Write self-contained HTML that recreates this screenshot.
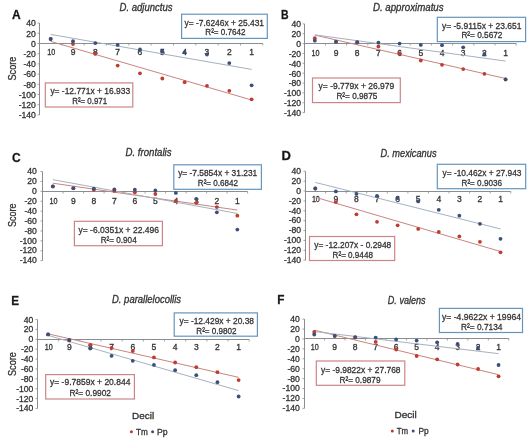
<!DOCTYPE html>
<html><head><meta charset="utf-8"><style>
html,body{margin:0;padding:0;background:#fff;}
svg{display:block;filter:blur(0.5px);}
text{font-family:"Liberation Sans",sans-serif;}
</style></head><body>
<svg width="528" height="442" viewBox="0 0 528 442">
<rect width="528" height="442" fill="#fff"/>
<text stroke="#333" stroke-width="0.3" x="11.9" y="18.75" font-size="12.5" font-weight="bold" fill="#111" textLength="8.7" lengthAdjust="spacingAndGlyphs">A</text>
<text stroke="#333" stroke-width="0.3" x="119.5" y="11.1" font-size="10" fill="#333333" textLength="53" lengthAdjust="spacingAndGlyphs" font-style="italic">D. adjunctus</text>
<line x1="39.5" y1="23.1" x2="39.5" y2="114.9" stroke="#8a8d92" stroke-width="1"/>
<line x1="37.5" y1="23.1" x2="39.5" y2="23.1" stroke="#8a8d92" stroke-width="0.8"/>
<text stroke="#333" stroke-width="0.3" x="35.9" y="26.4" font-size="8.6" fill="#333333" text-anchor="end">40</text>
<line x1="37.5" y1="33.3" x2="39.5" y2="33.3" stroke="#8a8d92" stroke-width="0.8"/>
<text stroke="#333" stroke-width="0.3" x="35.9" y="36.6" font-size="8.6" fill="#333333" text-anchor="end">20</text>
<line x1="37.5" y1="43.5" x2="39.5" y2="43.5" stroke="#8a8d92" stroke-width="0.8"/>
<text stroke="#333" stroke-width="0.3" x="35.9" y="46.8" font-size="8.6" fill="#333333" text-anchor="end">0</text>
<line x1="37.5" y1="53.7" x2="39.5" y2="53.7" stroke="#8a8d92" stroke-width="0.8"/>
<text stroke="#333" stroke-width="0.3" x="35.9" y="57" font-size="8.6" fill="#333333" text-anchor="end">-20</text>
<line x1="37.5" y1="63.9" x2="39.5" y2="63.9" stroke="#8a8d92" stroke-width="0.8"/>
<text stroke="#333" stroke-width="0.3" x="35.9" y="67.2" font-size="8.6" fill="#333333" text-anchor="end">-40</text>
<line x1="37.5" y1="74.1" x2="39.5" y2="74.1" stroke="#8a8d92" stroke-width="0.8"/>
<text stroke="#333" stroke-width="0.3" x="35.9" y="77.4" font-size="8.6" fill="#333333" text-anchor="end">-60</text>
<line x1="37.5" y1="84.3" x2="39.5" y2="84.3" stroke="#8a8d92" stroke-width="0.8"/>
<text stroke="#333" stroke-width="0.3" x="35.9" y="87.6" font-size="8.6" fill="#333333" text-anchor="end">-80</text>
<line x1="37.5" y1="94.5" x2="39.5" y2="94.5" stroke="#8a8d92" stroke-width="0.8"/>
<text stroke="#333" stroke-width="0.3" x="35.9" y="97.8" font-size="8.6" fill="#333333" text-anchor="end">-100</text>
<line x1="37.5" y1="104.7" x2="39.5" y2="104.7" stroke="#8a8d92" stroke-width="0.8"/>
<text stroke="#333" stroke-width="0.3" x="35.9" y="108" font-size="8.6" fill="#333333" text-anchor="end">-120</text>
<line x1="37.5" y1="114.9" x2="39.5" y2="114.9" stroke="#8a8d92" stroke-width="0.8"/>
<text stroke="#333" stroke-width="0.3" x="35.9" y="118.2" font-size="8.6" fill="#333333" text-anchor="end">-140</text>
<line x1="39.5" y1="43.5" x2="262.8" y2="43.5" stroke="#8a8d92" stroke-width="1"/>
<line x1="61.83" y1="43.5" x2="61.83" y2="45.5" stroke="#8a8d92" stroke-width="0.8"/>
<line x1="84.16" y1="43.5" x2="84.16" y2="45.5" stroke="#8a8d92" stroke-width="0.8"/>
<line x1="106.49" y1="43.5" x2="106.49" y2="45.5" stroke="#8a8d92" stroke-width="0.8"/>
<line x1="128.82" y1="43.5" x2="128.82" y2="45.5" stroke="#8a8d92" stroke-width="0.8"/>
<line x1="151.15" y1="43.5" x2="151.15" y2="45.5" stroke="#8a8d92" stroke-width="0.8"/>
<line x1="173.48" y1="43.5" x2="173.48" y2="45.5" stroke="#8a8d92" stroke-width="0.8"/>
<line x1="195.81" y1="43.5" x2="195.81" y2="45.5" stroke="#8a8d92" stroke-width="0.8"/>
<line x1="218.14" y1="43.5" x2="218.14" y2="45.5" stroke="#8a8d92" stroke-width="0.8"/>
<line x1="240.47" y1="43.5" x2="240.47" y2="45.5" stroke="#8a8d92" stroke-width="0.8"/>
<line x1="262.8" y1="43.5" x2="262.8" y2="45.5" stroke="#8a8d92" stroke-width="0.8"/>
<text stroke="#333" stroke-width="0.3" x="47.27" y="55" font-size="8.5" fill="#333333" textLength="8" lengthAdjust="spacingAndGlyphs">10</text>
<text stroke="#333" stroke-width="0.3" x="73" y="55" font-size="8.5" fill="#333333" text-anchor="middle">9</text>
<text stroke="#333" stroke-width="0.3" x="95.32" y="55" font-size="8.5" fill="#333333" text-anchor="middle">8</text>
<text stroke="#333" stroke-width="0.3" x="117.66" y="55" font-size="8.5" fill="#333333" text-anchor="middle">7</text>
<text stroke="#333" stroke-width="0.3" x="139.98" y="55" font-size="8.5" fill="#333333" text-anchor="middle">6</text>
<text stroke="#333" stroke-width="0.3" x="162.31" y="55" font-size="8.5" fill="#333333" text-anchor="middle">5</text>
<text stroke="#333" stroke-width="0.3" x="184.64" y="55" font-size="8.5" fill="#333333" text-anchor="middle">4</text>
<text stroke="#333" stroke-width="0.3" x="206.97" y="55" font-size="8.5" fill="#333333" text-anchor="middle">3</text>
<text stroke="#333" stroke-width="0.3" x="229.3" y="55" font-size="8.5" fill="#333333" text-anchor="middle">2</text>
<text stroke="#333" stroke-width="0.3" x="251.63" y="55" font-size="8.5" fill="#333333" text-anchor="middle">1</text>
<line x1="50.66" y1="41.38" x2="251.63" y2="100" stroke="#c88680" stroke-width="1"/>
<line x1="50.66" y1="34.42" x2="251.63" y2="69.42" stroke="#a4b2c0" stroke-width="1"/>
<circle cx="50.66" cy="39" r="1.9" fill="#c03c30"/>
<circle cx="73" cy="44" r="1.9" fill="#c03c30"/>
<circle cx="95.32" cy="53.75" r="1.9" fill="#c03c30"/>
<circle cx="117.66" cy="65.6" r="1.9" fill="#c03c30"/>
<circle cx="139.98" cy="73.3" r="1.9" fill="#c03c30"/>
<circle cx="162.31" cy="78.5" r="1.9" fill="#c03c30"/>
<circle cx="184.64" cy="82.2" r="1.9" fill="#c03c30"/>
<circle cx="206.97" cy="85.8" r="1.9" fill="#c03c30"/>
<circle cx="229.3" cy="90.8" r="1.9" fill="#c03c30"/>
<circle cx="251.63" cy="99.3" r="1.9" fill="#c03c30"/>
<circle cx="50.66" cy="39" r="1.9" fill="#3b4f7c"/>
<circle cx="73" cy="41.25" r="1.9" fill="#3b4f7c"/>
<circle cx="95.32" cy="43.1" r="1.9" fill="#3b4f7c"/>
<circle cx="117.66" cy="44.9" r="1.9" fill="#3b4f7c"/>
<circle cx="139.98" cy="49.5" r="1.9" fill="#3b4f7c"/>
<circle cx="162.31" cy="51.5" r="1.9" fill="#3b4f7c"/>
<circle cx="184.64" cy="52.5" r="1.9" fill="#3b4f7c"/>
<circle cx="206.97" cy="54.5" r="1.9" fill="#3b4f7c"/>
<circle cx="229.3" cy="63.1" r="1.9" fill="#3b4f7c"/>
<circle cx="251.63" cy="85.3" r="1.9" fill="#3b4f7c"/>
<rect x="181.6" y="14.2" width="85.7" height="24.2" fill="#fff" stroke="#6495bd" stroke-width="1.2"/>
<text stroke="#333" stroke-width="0.3" x="184.5" y="26.2" font-size="9.5" fill="#333333" textLength="79.5" lengthAdjust="spacingAndGlyphs" >y= -7.6246x + 25.431</text>
<text stroke="#333" stroke-width="0.3" x="205.3" y="35.3" font-size="9.5" fill="#333333" textLength="40.2" lengthAdjust="spacingAndGlyphs" >R²= 0.7642</text>
<rect x="45.3" y="82.9" width="87.5" height="24.1" fill="#fff" stroke="#cc8587" stroke-width="1.2"/>
<text stroke="#333" stroke-width="0.3" x="50.4" y="93.9" font-size="9.5" fill="#333333" textLength="79.7" lengthAdjust="spacingAndGlyphs" >y= -12.771x + 16.933</text>
<text stroke="#333" stroke-width="0.3" x="72.2" y="103.7" font-size="9.5" fill="#333333" textLength="35" lengthAdjust="spacingAndGlyphs" >R²= 0.971</text>
<text stroke="#333" stroke-width="0.3" transform="translate(16.1,80.5) rotate(-90)" x="0" y="0" font-size="11" fill="#333333" textLength="23.9" lengthAdjust="spacingAndGlyphs">Score</text>
<text stroke="#333" stroke-width="0.3" x="280.9" y="18.75" font-size="12.5" font-weight="bold" fill="#111" textLength="7.6" lengthAdjust="spacingAndGlyphs">B</text>
<text stroke="#333" stroke-width="0.3" x="372.9" y="11.1" font-size="10" fill="#333333" textLength="70.7" lengthAdjust="spacingAndGlyphs" font-style="italic">D. approximatus</text>
<line x1="304.5" y1="23.88" x2="304.5" y2="112.62" stroke="#8a8d92" stroke-width="1"/>
<line x1="302.5" y1="23.88" x2="304.5" y2="23.88" stroke="#8a8d92" stroke-width="0.8"/>
<text stroke="#333" stroke-width="0.3" x="301.1" y="27.28" font-size="8.6" fill="#333333" text-anchor="end">40</text>
<line x1="302.5" y1="33.74" x2="304.5" y2="33.74" stroke="#8a8d92" stroke-width="0.8"/>
<text stroke="#333" stroke-width="0.3" x="301.1" y="37.14" font-size="8.6" fill="#333333" text-anchor="end">20</text>
<line x1="302.5" y1="43.6" x2="304.5" y2="43.6" stroke="#8a8d92" stroke-width="0.8"/>
<text stroke="#333" stroke-width="0.3" x="301.1" y="47" font-size="8.6" fill="#333333" text-anchor="end">0</text>
<line x1="302.5" y1="53.46" x2="304.5" y2="53.46" stroke="#8a8d92" stroke-width="0.8"/>
<text stroke="#333" stroke-width="0.3" x="301.1" y="56.86" font-size="8.6" fill="#333333" text-anchor="end">-20</text>
<line x1="302.5" y1="63.32" x2="304.5" y2="63.32" stroke="#8a8d92" stroke-width="0.8"/>
<text stroke="#333" stroke-width="0.3" x="301.1" y="66.72" font-size="8.6" fill="#333333" text-anchor="end">-40</text>
<line x1="302.5" y1="73.18" x2="304.5" y2="73.18" stroke="#8a8d92" stroke-width="0.8"/>
<text stroke="#333" stroke-width="0.3" x="301.1" y="76.58" font-size="8.6" fill="#333333" text-anchor="end">-60</text>
<line x1="302.5" y1="83.04" x2="304.5" y2="83.04" stroke="#8a8d92" stroke-width="0.8"/>
<text stroke="#333" stroke-width="0.3" x="301.1" y="86.44" font-size="8.6" fill="#333333" text-anchor="end">-80</text>
<line x1="302.5" y1="92.9" x2="304.5" y2="92.9" stroke="#8a8d92" stroke-width="0.8"/>
<text stroke="#333" stroke-width="0.3" x="301.1" y="96.3" font-size="8.6" fill="#333333" text-anchor="end">-100</text>
<line x1="302.5" y1="102.76" x2="304.5" y2="102.76" stroke="#8a8d92" stroke-width="0.8"/>
<text stroke="#333" stroke-width="0.3" x="301.1" y="106.16" font-size="8.6" fill="#333333" text-anchor="end">-120</text>
<line x1="302.5" y1="112.62" x2="304.5" y2="112.62" stroke="#8a8d92" stroke-width="0.8"/>
<text stroke="#333" stroke-width="0.3" x="301.1" y="116.02" font-size="8.6" fill="#333333" text-anchor="end">-140</text>
<line x1="304.5" y1="43.5" x2="516.2" y2="43.5" stroke="#8a8d92" stroke-width="1"/>
<line x1="325.4" y1="43.5" x2="325.4" y2="45.5" stroke="#8a8d92" stroke-width="0.8"/>
<line x1="346.6" y1="43.5" x2="346.6" y2="45.5" stroke="#8a8d92" stroke-width="0.8"/>
<line x1="367.8" y1="43.5" x2="367.8" y2="45.5" stroke="#8a8d92" stroke-width="0.8"/>
<line x1="389" y1="43.5" x2="389" y2="45.5" stroke="#8a8d92" stroke-width="0.8"/>
<line x1="410.2" y1="43.5" x2="410.2" y2="45.5" stroke="#8a8d92" stroke-width="0.8"/>
<line x1="431.4" y1="43.5" x2="431.4" y2="45.5" stroke="#8a8d92" stroke-width="0.8"/>
<line x1="452.6" y1="43.5" x2="452.6" y2="45.5" stroke="#8a8d92" stroke-width="0.8"/>
<line x1="473.8" y1="43.5" x2="473.8" y2="45.5" stroke="#8a8d92" stroke-width="0.8"/>
<line x1="495" y1="43.5" x2="495" y2="45.5" stroke="#8a8d92" stroke-width="0.8"/>
<line x1="516.2" y1="43.5" x2="516.2" y2="45.5" stroke="#8a8d92" stroke-width="0.8"/>
<text stroke="#333" stroke-width="0.3" x="311.4" y="56.2" font-size="8.5" fill="#333333" textLength="8" lengthAdjust="spacingAndGlyphs">10</text>
<text stroke="#333" stroke-width="0.3" x="336" y="56.2" font-size="8.5" fill="#333333" text-anchor="middle">9</text>
<text stroke="#333" stroke-width="0.3" x="357.2" y="56.2" font-size="8.5" fill="#333333" text-anchor="middle">8</text>
<text stroke="#333" stroke-width="0.3" x="378.4" y="56.2" font-size="8.5" fill="#333333" text-anchor="middle">7</text>
<text stroke="#333" stroke-width="0.3" x="399.6" y="56.2" font-size="8.5" fill="#333333" text-anchor="middle">6</text>
<text stroke="#333" stroke-width="0.3" x="420.8" y="56.2" font-size="8.5" fill="#333333" text-anchor="middle">5</text>
<text stroke="#333" stroke-width="0.3" x="442" y="56.2" font-size="8.5" fill="#333333" text-anchor="middle">4</text>
<text stroke="#333" stroke-width="0.3" x="463.2" y="56.2" font-size="8.5" fill="#333333" text-anchor="middle">3</text>
<text stroke="#333" stroke-width="0.3" x="484.4" y="56.2" font-size="8.5" fill="#333333" text-anchor="middle">2</text>
<text stroke="#333" stroke-width="0.3" x="505.6" y="56.2" font-size="8.5" fill="#333333" text-anchor="middle">1</text>
<line x1="314.8" y1="35.12" x2="505.6" y2="78.51" stroke="#c88680" stroke-width="1"/>
<line x1="314.8" y1="34.85" x2="505.6" y2="61.08" stroke="#a4b2c0" stroke-width="1"/>
<circle cx="314.8" cy="38.2" r="1.9" fill="#c03c30"/>
<circle cx="336" cy="41.8" r="1.9" fill="#c03c30"/>
<circle cx="357.2" cy="42.5" r="1.9" fill="#c03c30"/>
<circle cx="378.4" cy="46.5" r="1.9" fill="#c03c30"/>
<circle cx="399.6" cy="53.5" r="1.9" fill="#c03c30"/>
<circle cx="420.8" cy="60.5" r="1.9" fill="#c03c30"/>
<circle cx="442" cy="64.8" r="1.9" fill="#c03c30"/>
<circle cx="463.2" cy="69.1" r="1.9" fill="#c03c30"/>
<circle cx="484.4" cy="73.8" r="1.9" fill="#c03c30"/>
<circle cx="505.6" cy="79.4" r="1.9" fill="#c03c30"/>
<circle cx="314.8" cy="40.7" r="1.9" fill="#3b4f7c"/>
<circle cx="336" cy="41.7" r="1.9" fill="#3b4f7c"/>
<circle cx="357.2" cy="42.2" r="1.9" fill="#3b4f7c"/>
<circle cx="378.4" cy="42.6" r="1.9" fill="#3b4f7c"/>
<circle cx="399.6" cy="43.6" r="1.9" fill="#3b4f7c"/>
<circle cx="420.8" cy="44.9" r="1.9" fill="#3b4f7c"/>
<circle cx="442" cy="45.2" r="1.9" fill="#3b4f7c"/>
<circle cx="463.2" cy="47.3" r="1.9" fill="#3b4f7c"/>
<circle cx="484.4" cy="54" r="1.9" fill="#3b4f7c"/>
<circle cx="505.6" cy="79.4" r="1.9" fill="#3b4f7c"/>
<rect x="437.3" y="17.3" width="88.3" height="24.3" fill="#fff" stroke="#6495bd" stroke-width="1.2"/>
<text stroke="#333" stroke-width="0.3" x="442" y="29" font-size="9.5" fill="#333333" textLength="79.5" lengthAdjust="spacingAndGlyphs" >y= -5.9115x + 23.651</text>
<text stroke="#333" stroke-width="0.3" x="461.4" y="38.4" font-size="9.5" fill="#333333" textLength="41" lengthAdjust="spacingAndGlyphs" >R²= 0.5672</text>
<rect x="312.5" y="78" width="87.8" height="24.6" fill="#fff" stroke="#cc8587" stroke-width="1.2"/>
<text stroke="#333" stroke-width="0.3" x="318.6" y="89.1" font-size="9.5" fill="#333333" textLength="75.7" lengthAdjust="spacingAndGlyphs" >y= -9.779x + 26.979</text>
<text stroke="#333" stroke-width="0.3" x="336.4" y="99.3" font-size="9.5" fill="#333333" textLength="40.9" lengthAdjust="spacingAndGlyphs" >R²= 0.9875</text>
<text stroke="#333" stroke-width="0.3" x="11.9" y="161.5" font-size="12.5" font-weight="bold" fill="#111" textLength="8.7" lengthAdjust="spacingAndGlyphs">C</text>
<text stroke="#333" stroke-width="0.3" x="125.5" y="155.6" font-size="10" fill="#333333" textLength="46" lengthAdjust="spacingAndGlyphs" font-style="italic">D. frontalis</text>
<line x1="42.5" y1="171.55" x2="42.5" y2="260.65" stroke="#8a8d92" stroke-width="1"/>
<line x1="40.5" y1="171.55" x2="42.5" y2="171.55" stroke="#8a8d92" stroke-width="0.8"/>
<text stroke="#333" stroke-width="0.3" x="36.85" y="174.25" font-size="8.6" fill="#333333" text-anchor="end">40</text>
<line x1="40.5" y1="181.45" x2="42.5" y2="181.45" stroke="#8a8d92" stroke-width="0.8"/>
<text stroke="#333" stroke-width="0.3" x="36.85" y="184.15" font-size="8.6" fill="#333333" text-anchor="end">20</text>
<line x1="40.5" y1="191.35" x2="42.5" y2="191.35" stroke="#8a8d92" stroke-width="0.8"/>
<text stroke="#333" stroke-width="0.3" x="36.85" y="194.05" font-size="8.6" fill="#333333" text-anchor="end">0</text>
<line x1="40.5" y1="201.25" x2="42.5" y2="201.25" stroke="#8a8d92" stroke-width="0.8"/>
<text stroke="#333" stroke-width="0.3" x="36.85" y="203.95" font-size="8.6" fill="#333333" text-anchor="end">-20</text>
<line x1="40.5" y1="211.15" x2="42.5" y2="211.15" stroke="#8a8d92" stroke-width="0.8"/>
<text stroke="#333" stroke-width="0.3" x="36.85" y="213.85" font-size="8.6" fill="#333333" text-anchor="end">-40</text>
<line x1="40.5" y1="221.05" x2="42.5" y2="221.05" stroke="#8a8d92" stroke-width="0.8"/>
<text stroke="#333" stroke-width="0.3" x="36.85" y="223.75" font-size="8.6" fill="#333333" text-anchor="end">-60</text>
<line x1="40.5" y1="230.95" x2="42.5" y2="230.95" stroke="#8a8d92" stroke-width="0.8"/>
<text stroke="#333" stroke-width="0.3" x="36.85" y="233.65" font-size="8.6" fill="#333333" text-anchor="end">-80</text>
<line x1="40.5" y1="240.85" x2="42.5" y2="240.85" stroke="#8a8d92" stroke-width="0.8"/>
<text stroke="#333" stroke-width="0.3" x="36.85" y="243.55" font-size="8.6" fill="#333333" text-anchor="end">-100</text>
<line x1="40.5" y1="250.75" x2="42.5" y2="250.75" stroke="#8a8d92" stroke-width="0.8"/>
<text stroke="#333" stroke-width="0.3" x="36.85" y="253.45" font-size="8.6" fill="#333333" text-anchor="end">-120</text>
<line x1="40.5" y1="260.65" x2="42.5" y2="260.65" stroke="#8a8d92" stroke-width="0.8"/>
<text stroke="#333" stroke-width="0.3" x="36.85" y="263.35" font-size="8.6" fill="#333333" text-anchor="end">-140</text>
<line x1="42.5" y1="191.5" x2="247.6" y2="191.5" stroke="#8a8d92" stroke-width="1"/>
<line x1="63.1" y1="191.5" x2="63.1" y2="193.5" stroke="#8a8d92" stroke-width="0.8"/>
<line x1="83.6" y1="191.5" x2="83.6" y2="193.5" stroke="#8a8d92" stroke-width="0.8"/>
<line x1="104.1" y1="191.5" x2="104.1" y2="193.5" stroke="#8a8d92" stroke-width="0.8"/>
<line x1="124.6" y1="191.5" x2="124.6" y2="193.5" stroke="#8a8d92" stroke-width="0.8"/>
<line x1="145.1" y1="191.5" x2="145.1" y2="193.5" stroke="#8a8d92" stroke-width="0.8"/>
<line x1="165.6" y1="191.5" x2="165.6" y2="193.5" stroke="#8a8d92" stroke-width="0.8"/>
<line x1="186.1" y1="191.5" x2="186.1" y2="193.5" stroke="#8a8d92" stroke-width="0.8"/>
<line x1="206.6" y1="191.5" x2="206.6" y2="193.5" stroke="#8a8d92" stroke-width="0.8"/>
<line x1="227.1" y1="191.5" x2="227.1" y2="193.5" stroke="#8a8d92" stroke-width="0.8"/>
<line x1="247.6" y1="191.5" x2="247.6" y2="193.5" stroke="#8a8d92" stroke-width="0.8"/>
<text stroke="#333" stroke-width="0.3" x="49.45" y="203.5" font-size="8.5" fill="#333333" textLength="8" lengthAdjust="spacingAndGlyphs">10</text>
<text stroke="#333" stroke-width="0.3" x="73.35" y="203.5" font-size="8.5" fill="#333333" text-anchor="middle">9</text>
<text stroke="#333" stroke-width="0.3" x="93.85" y="203.5" font-size="8.5" fill="#333333" text-anchor="middle">8</text>
<text stroke="#333" stroke-width="0.3" x="114.35" y="203.5" font-size="8.5" fill="#333333" text-anchor="middle">7</text>
<text stroke="#333" stroke-width="0.3" x="134.85" y="203.5" font-size="8.5" fill="#333333" text-anchor="middle">6</text>
<text stroke="#333" stroke-width="0.3" x="155.35" y="203.5" font-size="8.5" fill="#333333" text-anchor="middle">5</text>
<text stroke="#333" stroke-width="0.3" x="175.85" y="203.5" font-size="8.5" fill="#333333" text-anchor="middle">4</text>
<text stroke="#333" stroke-width="0.3" x="196.35" y="203.5" font-size="8.5" fill="#333333" text-anchor="middle">3</text>
<text stroke="#333" stroke-width="0.3" x="216.85" y="203.5" font-size="8.5" fill="#333333" text-anchor="middle">2</text>
<text stroke="#333" stroke-width="0.3" x="237.35" y="203.5" font-size="8.5" fill="#333333" text-anchor="middle">1</text>
<line x1="52.85" y1="183.2" x2="237.35" y2="210.09" stroke="#c88680" stroke-width="1"/>
<line x1="52.85" y1="179.65" x2="237.35" y2="213.44" stroke="#a4b2c0" stroke-width="1"/>
<circle cx="52.85" cy="186.4" r="1.9" fill="#c03c30"/>
<circle cx="73.35" cy="188.3" r="1.9" fill="#c03c30"/>
<circle cx="93.85" cy="189.8" r="1.9" fill="#c03c30"/>
<circle cx="114.35" cy="190.9" r="1.9" fill="#c03c30"/>
<circle cx="134.85" cy="192.3" r="1.9" fill="#c03c30"/>
<circle cx="155.35" cy="194" r="1.9" fill="#c03c30"/>
<circle cx="175.85" cy="201" r="1.9" fill="#c03c30"/>
<circle cx="196.35" cy="202.8" r="1.9" fill="#c03c30"/>
<circle cx="216.85" cy="207.1" r="1.9" fill="#c03c30"/>
<circle cx="237.35" cy="215.7" r="1.9" fill="#c03c30"/>
<circle cx="52.85" cy="186.4" r="1.9" fill="#3b4f7c"/>
<circle cx="73.35" cy="188.2" r="1.9" fill="#3b4f7c"/>
<circle cx="93.85" cy="188.6" r="1.9" fill="#3b4f7c"/>
<circle cx="114.35" cy="189.3" r="1.9" fill="#3b4f7c"/>
<circle cx="134.85" cy="189.7" r="1.9" fill="#3b4f7c"/>
<circle cx="155.35" cy="190.5" r="1.9" fill="#3b4f7c"/>
<circle cx="175.85" cy="192.9" r="1.9" fill="#3b4f7c"/>
<circle cx="196.35" cy="198.8" r="1.9" fill="#3b4f7c"/>
<circle cx="216.85" cy="212.3" r="1.9" fill="#3b4f7c"/>
<circle cx="237.35" cy="229.6" r="1.9" fill="#3b4f7c"/>
<rect x="173.8" y="164.8" width="87.6" height="24.5" fill="#fff" stroke="#6495bd" stroke-width="1.2"/>
<text stroke="#333" stroke-width="0.3" x="178.2" y="176" font-size="9.5" fill="#333333" textLength="79" lengthAdjust="spacingAndGlyphs" >y= -7.5854x + 31.231</text>
<text stroke="#333" stroke-width="0.3" x="197.8" y="186.3" font-size="9.5" fill="#333333" textLength="40.2" lengthAdjust="spacingAndGlyphs" >R²= 0.6842</text>
<rect x="74.4" y="221.3" width="88" height="24.4" fill="#fff" stroke="#cc8587" stroke-width="1.2"/>
<text stroke="#333" stroke-width="0.3" x="78.5" y="232.7" font-size="9.5" fill="#333333" textLength="80.5" lengthAdjust="spacingAndGlyphs" >y= -6.0351x + 22.496</text>
<text stroke="#333" stroke-width="0.3" x="100.7" y="243.2" font-size="9.5" fill="#333333" textLength="36" lengthAdjust="spacingAndGlyphs" >R²= 0.904</text>
<text stroke="#333" stroke-width="0.3" transform="translate(16.1,227) rotate(-90)" x="0" y="0" font-size="11" fill="#333333" textLength="23.4" lengthAdjust="spacingAndGlyphs">Score</text>
<text stroke="#333" stroke-width="0.3" x="281.6" y="160" font-size="12.5" font-weight="bold" fill="#111" textLength="9.4" lengthAdjust="spacingAndGlyphs">D</text>
<text stroke="#333" stroke-width="0.3" x="380.5" y="156.5" font-size="10" fill="#333333" textLength="56" lengthAdjust="spacingAndGlyphs" font-style="italic">D. mexicanus</text>
<line x1="305.5" y1="171.29" x2="305.5" y2="260.21" stroke="#8a8d92" stroke-width="1"/>
<line x1="303.5" y1="171.29" x2="305.5" y2="171.29" stroke="#8a8d92" stroke-width="0.8"/>
<text stroke="#333" stroke-width="0.3" x="301.1" y="174.09" font-size="8.6" fill="#333333" text-anchor="end">40</text>
<line x1="303.5" y1="181.17" x2="305.5" y2="181.17" stroke="#8a8d92" stroke-width="0.8"/>
<text stroke="#333" stroke-width="0.3" x="301.1" y="183.97" font-size="8.6" fill="#333333" text-anchor="end">20</text>
<line x1="303.5" y1="191.05" x2="305.5" y2="191.05" stroke="#8a8d92" stroke-width="0.8"/>
<text stroke="#333" stroke-width="0.3" x="301.1" y="193.85" font-size="8.6" fill="#333333" text-anchor="end">0</text>
<line x1="303.5" y1="200.93" x2="305.5" y2="200.93" stroke="#8a8d92" stroke-width="0.8"/>
<text stroke="#333" stroke-width="0.3" x="301.1" y="203.73" font-size="8.6" fill="#333333" text-anchor="end">-20</text>
<line x1="303.5" y1="210.81" x2="305.5" y2="210.81" stroke="#8a8d92" stroke-width="0.8"/>
<text stroke="#333" stroke-width="0.3" x="301.1" y="213.61" font-size="8.6" fill="#333333" text-anchor="end">-40</text>
<line x1="303.5" y1="220.69" x2="305.5" y2="220.69" stroke="#8a8d92" stroke-width="0.8"/>
<text stroke="#333" stroke-width="0.3" x="301.1" y="223.49" font-size="8.6" fill="#333333" text-anchor="end">-60</text>
<line x1="303.5" y1="230.57" x2="305.5" y2="230.57" stroke="#8a8d92" stroke-width="0.8"/>
<text stroke="#333" stroke-width="0.3" x="301.1" y="233.37" font-size="8.6" fill="#333333" text-anchor="end">-80</text>
<line x1="303.5" y1="240.45" x2="305.5" y2="240.45" stroke="#8a8d92" stroke-width="0.8"/>
<text stroke="#333" stroke-width="0.3" x="301.1" y="243.25" font-size="8.6" fill="#333333" text-anchor="end">-100</text>
<line x1="303.5" y1="250.33" x2="305.5" y2="250.33" stroke="#8a8d92" stroke-width="0.8"/>
<text stroke="#333" stroke-width="0.3" x="301.1" y="253.13" font-size="8.6" fill="#333333" text-anchor="end">-120</text>
<line x1="303.5" y1="260.21" x2="305.5" y2="260.21" stroke="#8a8d92" stroke-width="0.8"/>
<text stroke="#333" stroke-width="0.3" x="301.1" y="263.01" font-size="8.6" fill="#333333" text-anchor="end">-140</text>
<line x1="305.5" y1="191.5" x2="510.8" y2="191.5" stroke="#8a8d92" stroke-width="1"/>
<line x1="325.58" y1="191.5" x2="325.58" y2="193.5" stroke="#8a8d92" stroke-width="0.8"/>
<line x1="346.16" y1="191.5" x2="346.16" y2="193.5" stroke="#8a8d92" stroke-width="0.8"/>
<line x1="366.74" y1="191.5" x2="366.74" y2="193.5" stroke="#8a8d92" stroke-width="0.8"/>
<line x1="387.32" y1="191.5" x2="387.32" y2="193.5" stroke="#8a8d92" stroke-width="0.8"/>
<line x1="407.9" y1="191.5" x2="407.9" y2="193.5" stroke="#8a8d92" stroke-width="0.8"/>
<line x1="428.48" y1="191.5" x2="428.48" y2="193.5" stroke="#8a8d92" stroke-width="0.8"/>
<line x1="449.06" y1="191.5" x2="449.06" y2="193.5" stroke="#8a8d92" stroke-width="0.8"/>
<line x1="469.64" y1="191.5" x2="469.64" y2="193.5" stroke="#8a8d92" stroke-width="0.8"/>
<line x1="490.22" y1="191.5" x2="490.22" y2="193.5" stroke="#8a8d92" stroke-width="0.8"/>
<line x1="510.8" y1="191.5" x2="510.8" y2="193.5" stroke="#8a8d92" stroke-width="0.8"/>
<text stroke="#333" stroke-width="0.3" x="311.89" y="202.2" font-size="8.5" fill="#333333" textLength="8" lengthAdjust="spacingAndGlyphs">10</text>
<text stroke="#333" stroke-width="0.3" x="335.87" y="202.2" font-size="8.5" fill="#333333" text-anchor="middle">9</text>
<text stroke="#333" stroke-width="0.3" x="356.45" y="202.2" font-size="8.5" fill="#333333" text-anchor="middle">8</text>
<text stroke="#333" stroke-width="0.3" x="377.03" y="202.2" font-size="8.5" fill="#333333" text-anchor="middle">7</text>
<text stroke="#333" stroke-width="0.3" x="397.61" y="202.2" font-size="8.5" fill="#333333" text-anchor="middle">6</text>
<text stroke="#333" stroke-width="0.3" x="418.19" y="202.2" font-size="8.5" fill="#333333" text-anchor="middle">5</text>
<text stroke="#333" stroke-width="0.3" x="438.77" y="202.2" font-size="8.5" fill="#333333" text-anchor="middle">4</text>
<text stroke="#333" stroke-width="0.3" x="459.35" y="202.2" font-size="8.5" fill="#333333" text-anchor="middle">3</text>
<text stroke="#333" stroke-width="0.3" x="479.93" y="202.2" font-size="8.5" fill="#333333" text-anchor="middle">2</text>
<text stroke="#333" stroke-width="0.3" x="500.51" y="202.2" font-size="8.5" fill="#333333" text-anchor="middle">1</text>
<line x1="315.29" y1="197.23" x2="500.51" y2="251.5" stroke="#c88680" stroke-width="1"/>
<line x1="315.29" y1="182.41" x2="500.51" y2="228.93" stroke="#a4b2c0" stroke-width="1"/>
<circle cx="315.29" cy="188.5" r="1.9" fill="#c03c30"/>
<circle cx="335.87" cy="202.1" r="1.9" fill="#c03c30"/>
<circle cx="356.45" cy="214.3" r="1.9" fill="#c03c30"/>
<circle cx="377.03" cy="221.8" r="1.9" fill="#c03c30"/>
<circle cx="397.61" cy="225.3" r="1.9" fill="#c03c30"/>
<circle cx="418.19" cy="228.9" r="1.9" fill="#c03c30"/>
<circle cx="438.77" cy="231.9" r="1.9" fill="#c03c30"/>
<circle cx="459.35" cy="236.4" r="1.9" fill="#c03c30"/>
<circle cx="479.93" cy="241.8" r="1.9" fill="#c03c30"/>
<circle cx="500.51" cy="252.3" r="1.9" fill="#c03c30"/>
<circle cx="315.29" cy="188.5" r="1.9" fill="#3b4f7c"/>
<circle cx="335.87" cy="191.4" r="1.9" fill="#3b4f7c"/>
<circle cx="356.45" cy="193.9" r="1.9" fill="#3b4f7c"/>
<circle cx="377.03" cy="195.9" r="1.9" fill="#3b4f7c"/>
<circle cx="397.61" cy="198" r="1.9" fill="#3b4f7c"/>
<circle cx="418.19" cy="201.4" r="1.9" fill="#3b4f7c"/>
<circle cx="438.77" cy="209.8" r="1.9" fill="#3b4f7c"/>
<circle cx="459.35" cy="215.7" r="1.9" fill="#3b4f7c"/>
<circle cx="479.93" cy="223.8" r="1.9" fill="#3b4f7c"/>
<circle cx="500.51" cy="238.8" r="1.9" fill="#3b4f7c"/>
<rect x="437.3" y="164.3" width="88.4" height="24.4" fill="#fff" stroke="#6495bd" stroke-width="1.2"/>
<text stroke="#333" stroke-width="0.3" x="442.5" y="176" font-size="9.5" fill="#333333" textLength="79" lengthAdjust="spacingAndGlyphs" >y= -10.462x + 27.943</text>
<text stroke="#333" stroke-width="0.3" x="461.5" y="186.4" font-size="9.5" fill="#333333" textLength="40.5" lengthAdjust="spacingAndGlyphs" >R²= 0.9036</text>
<rect x="309.5" y="236.5" width="85.2" height="24" fill="#fff" stroke="#cc8587" stroke-width="1.2"/>
<text stroke="#333" stroke-width="0.3" x="314.2" y="247.5" font-size="9.5" fill="#333333" textLength="77.1" lengthAdjust="spacingAndGlyphs" >y= -12.207x - 0.2948</text>
<text stroke="#333" stroke-width="0.3" x="332.6" y="257.8" font-size="9.5" fill="#333333" textLength="40.3" lengthAdjust="spacingAndGlyphs" >R²= 0.9448</text>
<text stroke="#333" stroke-width="0.3" x="11.3" y="304.75" font-size="12.5" font-weight="bold" fill="#111" textLength="7.8" lengthAdjust="spacingAndGlyphs">E</text>
<text stroke="#333" stroke-width="0.3" x="112" y="303" font-size="10" fill="#333333" textLength="69" lengthAdjust="spacingAndGlyphs" font-style="italic">D. parallelocollis</text>
<line x1="37.5" y1="319.54" x2="37.5" y2="408.46" stroke="#8a8d92" stroke-width="1"/>
<line x1="35.5" y1="319.54" x2="37.5" y2="319.54" stroke="#8a8d92" stroke-width="0.8"/>
<text stroke="#333" stroke-width="0.3" x="33.4" y="322.54" font-size="8.6" fill="#333333" text-anchor="end">40</text>
<line x1="35.5" y1="329.42" x2="37.5" y2="329.42" stroke="#8a8d92" stroke-width="0.8"/>
<text stroke="#333" stroke-width="0.3" x="33.4" y="332.42" font-size="8.6" fill="#333333" text-anchor="end">20</text>
<line x1="35.5" y1="339.3" x2="37.5" y2="339.3" stroke="#8a8d92" stroke-width="0.8"/>
<text stroke="#333" stroke-width="0.3" x="33.4" y="342.3" font-size="8.6" fill="#333333" text-anchor="end">0</text>
<line x1="35.5" y1="349.18" x2="37.5" y2="349.18" stroke="#8a8d92" stroke-width="0.8"/>
<text stroke="#333" stroke-width="0.3" x="33.4" y="352.18" font-size="8.6" fill="#333333" text-anchor="end">-20</text>
<line x1="35.5" y1="359.06" x2="37.5" y2="359.06" stroke="#8a8d92" stroke-width="0.8"/>
<text stroke="#333" stroke-width="0.3" x="33.4" y="362.06" font-size="8.6" fill="#333333" text-anchor="end">-40</text>
<line x1="35.5" y1="368.94" x2="37.5" y2="368.94" stroke="#8a8d92" stroke-width="0.8"/>
<text stroke="#333" stroke-width="0.3" x="33.4" y="371.94" font-size="8.6" fill="#333333" text-anchor="end">-60</text>
<line x1="35.5" y1="378.82" x2="37.5" y2="378.82" stroke="#8a8d92" stroke-width="0.8"/>
<text stroke="#333" stroke-width="0.3" x="33.4" y="381.82" font-size="8.6" fill="#333333" text-anchor="end">-80</text>
<line x1="35.5" y1="388.7" x2="37.5" y2="388.7" stroke="#8a8d92" stroke-width="0.8"/>
<text stroke="#333" stroke-width="0.3" x="33.4" y="391.7" font-size="8.6" fill="#333333" text-anchor="end">-100</text>
<line x1="35.5" y1="398.58" x2="37.5" y2="398.58" stroke="#8a8d92" stroke-width="0.8"/>
<text stroke="#333" stroke-width="0.3" x="33.4" y="401.58" font-size="8.6" fill="#333333" text-anchor="end">-120</text>
<line x1="35.5" y1="408.46" x2="37.5" y2="408.46" stroke="#8a8d92" stroke-width="0.8"/>
<text stroke="#333" stroke-width="0.3" x="33.4" y="411.46" font-size="8.6" fill="#333333" text-anchor="end">-140</text>
<line x1="37.5" y1="339.5" x2="249.2" y2="339.5" stroke="#8a8d92" stroke-width="1"/>
<line x1="58.67" y1="339.5" x2="58.67" y2="341.5" stroke="#8a8d92" stroke-width="0.8"/>
<line x1="79.84" y1="339.5" x2="79.84" y2="341.5" stroke="#8a8d92" stroke-width="0.8"/>
<line x1="101.01" y1="339.5" x2="101.01" y2="341.5" stroke="#8a8d92" stroke-width="0.8"/>
<line x1="122.18" y1="339.5" x2="122.18" y2="341.5" stroke="#8a8d92" stroke-width="0.8"/>
<line x1="143.35" y1="339.5" x2="143.35" y2="341.5" stroke="#8a8d92" stroke-width="0.8"/>
<line x1="164.52" y1="339.5" x2="164.52" y2="341.5" stroke="#8a8d92" stroke-width="0.8"/>
<line x1="185.69" y1="339.5" x2="185.69" y2="341.5" stroke="#8a8d92" stroke-width="0.8"/>
<line x1="206.86" y1="339.5" x2="206.86" y2="341.5" stroke="#8a8d92" stroke-width="0.8"/>
<line x1="228.03" y1="339.5" x2="228.03" y2="341.5" stroke="#8a8d92" stroke-width="0.8"/>
<line x1="249.2" y1="339.5" x2="249.2" y2="341.5" stroke="#8a8d92" stroke-width="0.8"/>
<text stroke="#333" stroke-width="0.3" x="44.69" y="349.6" font-size="8.5" fill="#333333" textLength="8" lengthAdjust="spacingAndGlyphs">10</text>
<text stroke="#333" stroke-width="0.3" x="69.25" y="349.6" font-size="8.5" fill="#333333" text-anchor="middle">9</text>
<text stroke="#333" stroke-width="0.3" x="90.43" y="349.6" font-size="8.5" fill="#333333" text-anchor="middle">8</text>
<text stroke="#333" stroke-width="0.3" x="111.59" y="349.6" font-size="8.5" fill="#333333" text-anchor="middle">7</text>
<text stroke="#333" stroke-width="0.3" x="132.77" y="349.6" font-size="8.5" fill="#333333" text-anchor="middle">6</text>
<text stroke="#333" stroke-width="0.3" x="153.94" y="349.6" font-size="8.5" fill="#333333" text-anchor="middle">5</text>
<text stroke="#333" stroke-width="0.3" x="175.11" y="349.6" font-size="8.5" fill="#333333" text-anchor="middle">4</text>
<text stroke="#333" stroke-width="0.3" x="196.28" y="349.6" font-size="8.5" fill="#333333" text-anchor="middle">3</text>
<text stroke="#333" stroke-width="0.3" x="217.45" y="349.6" font-size="8.5" fill="#333333" text-anchor="middle">2</text>
<text stroke="#333" stroke-width="0.3" x="238.62" y="349.6" font-size="8.5" fill="#333333" text-anchor="middle">1</text>
<line x1="48.09" y1="333.84" x2="238.62" y2="377.35" stroke="#c88680" stroke-width="1"/>
<line x1="48.09" y1="335.37" x2="238.62" y2="390.63" stroke="#a4b2c0" stroke-width="1"/>
<circle cx="48.09" cy="334.4" r="1.9" fill="#c03c30"/>
<circle cx="69.25" cy="340.5" r="1.9" fill="#c03c30"/>
<circle cx="90.43" cy="344.8" r="1.9" fill="#c03c30"/>
<circle cx="111.59" cy="347.9" r="1.9" fill="#c03c30"/>
<circle cx="132.77" cy="351.1" r="1.9" fill="#c03c30"/>
<circle cx="153.94" cy="357.4" r="1.9" fill="#c03c30"/>
<circle cx="175.11" cy="362.5" r="1.9" fill="#c03c30"/>
<circle cx="196.28" cy="367.2" r="1.9" fill="#c03c30"/>
<circle cx="217.45" cy="372.2" r="1.9" fill="#c03c30"/>
<circle cx="238.62" cy="380.1" r="1.9" fill="#c03c30"/>
<circle cx="48.09" cy="334.4" r="1.9" fill="#3b4f7c"/>
<circle cx="69.25" cy="340" r="1.9" fill="#3b4f7c"/>
<circle cx="90.43" cy="348.3" r="1.9" fill="#3b4f7c"/>
<circle cx="111.59" cy="355.8" r="1.9" fill="#3b4f7c"/>
<circle cx="132.77" cy="360.8" r="1.9" fill="#3b4f7c"/>
<circle cx="153.94" cy="364.9" r="1.9" fill="#3b4f7c"/>
<circle cx="175.11" cy="370.2" r="1.9" fill="#3b4f7c"/>
<circle cx="196.28" cy="375.2" r="1.9" fill="#3b4f7c"/>
<circle cx="217.45" cy="382.2" r="1.9" fill="#3b4f7c"/>
<circle cx="238.62" cy="396.5" r="1.9" fill="#3b4f7c"/>
<rect x="174.2" y="312.9" width="83.2" height="23.3" fill="#fff" stroke="#6495bd" stroke-width="1.2"/>
<text stroke="#333" stroke-width="0.3" x="179.5" y="323.7" font-size="9.5" fill="#333333" textLength="74.5" lengthAdjust="spacingAndGlyphs" >y= -12.429x + 20.38</text>
<text stroke="#333" stroke-width="0.3" x="196.3" y="333.9" font-size="9.5" fill="#333333" textLength="40.2" lengthAdjust="spacingAndGlyphs" >R²= 0.9802</text>
<rect x="45.7" y="374.6" width="88.7" height="24.4" fill="#fff" stroke="#cc8587" stroke-width="1.2"/>
<text stroke="#333" stroke-width="0.3" x="50" y="385.1" font-size="9.5" fill="#333333" textLength="80.4" lengthAdjust="spacingAndGlyphs" >y= -9.7859x + 20.844</text>
<text stroke="#333" stroke-width="0.3" x="69.4" y="395.5" font-size="9.5" fill="#333333" textLength="41.6" lengthAdjust="spacingAndGlyphs" >R²= 0.9902</text>
<text stroke="#333" stroke-width="0.3" transform="translate(16.1,376) rotate(-90)" x="0" y="0" font-size="11" fill="#333333" textLength="23.9" lengthAdjust="spacingAndGlyphs">Score</text>
<text stroke="#333" stroke-width="0.3" x="132.1" y="419" font-size="9.4" fill="#333333" textLength="22" lengthAdjust="spacingAndGlyphs" >Decil</text>
<circle cx="131.4" cy="431.8" r="1.5" fill="#c03c30"/>
<text stroke="#333" stroke-width="0.3" x="135.9" y="435.4" font-size="8.8" fill="#333333" textLength="11.8" lengthAdjust="spacingAndGlyphs" >Tm</text>
<circle cx="152.6" cy="431.8" r="1.5" fill="#3b4f7c"/>
<text stroke="#333" stroke-width="0.3" x="157.1" y="435.4" font-size="8.8" fill="#333333" textLength="10.6" lengthAdjust="spacingAndGlyphs" >Pp</text>
<text stroke="#333" stroke-width="0.3" x="277.15" y="304" font-size="12.5" font-weight="bold" fill="#111" textLength="7.2" lengthAdjust="spacingAndGlyphs">F</text>
<text stroke="#333" stroke-width="0.3" x="387.8" y="304.4" font-size="10" fill="#333333" textLength="37.8" lengthAdjust="spacingAndGlyphs" font-style="italic">D. valens</text>
<line x1="304.5" y1="319.11" x2="304.5" y2="408.39" stroke="#8a8d92" stroke-width="1"/>
<line x1="302.5" y1="319.11" x2="304.5" y2="319.11" stroke="#8a8d92" stroke-width="0.8"/>
<text stroke="#333" stroke-width="0.3" x="299.8" y="322.01" font-size="8.6" fill="#333333" text-anchor="end">40</text>
<line x1="302.5" y1="329.03" x2="304.5" y2="329.03" stroke="#8a8d92" stroke-width="0.8"/>
<text stroke="#333" stroke-width="0.3" x="299.8" y="331.93" font-size="8.6" fill="#333333" text-anchor="end">20</text>
<line x1="302.5" y1="338.95" x2="304.5" y2="338.95" stroke="#8a8d92" stroke-width="0.8"/>
<text stroke="#333" stroke-width="0.3" x="299.8" y="341.85" font-size="8.6" fill="#333333" text-anchor="end">0</text>
<line x1="302.5" y1="348.87" x2="304.5" y2="348.87" stroke="#8a8d92" stroke-width="0.8"/>
<text stroke="#333" stroke-width="0.3" x="299.8" y="351.77" font-size="8.6" fill="#333333" text-anchor="end">-20</text>
<line x1="302.5" y1="358.79" x2="304.5" y2="358.79" stroke="#8a8d92" stroke-width="0.8"/>
<text stroke="#333" stroke-width="0.3" x="299.8" y="361.69" font-size="8.6" fill="#333333" text-anchor="end">-40</text>
<line x1="302.5" y1="368.71" x2="304.5" y2="368.71" stroke="#8a8d92" stroke-width="0.8"/>
<text stroke="#333" stroke-width="0.3" x="299.8" y="371.61" font-size="8.6" fill="#333333" text-anchor="end">-60</text>
<line x1="302.5" y1="378.63" x2="304.5" y2="378.63" stroke="#8a8d92" stroke-width="0.8"/>
<text stroke="#333" stroke-width="0.3" x="299.8" y="381.53" font-size="8.6" fill="#333333" text-anchor="end">-80</text>
<line x1="302.5" y1="388.55" x2="304.5" y2="388.55" stroke="#8a8d92" stroke-width="0.8"/>
<text stroke="#333" stroke-width="0.3" x="299.8" y="391.45" font-size="8.6" fill="#333333" text-anchor="end">-100</text>
<line x1="302.5" y1="398.47" x2="304.5" y2="398.47" stroke="#8a8d92" stroke-width="0.8"/>
<text stroke="#333" stroke-width="0.3" x="299.8" y="401.37" font-size="8.6" fill="#333333" text-anchor="end">-120</text>
<line x1="302.5" y1="408.39" x2="304.5" y2="408.39" stroke="#8a8d92" stroke-width="0.8"/>
<text stroke="#333" stroke-width="0.3" x="299.8" y="411.29" font-size="8.6" fill="#333333" text-anchor="end">-140</text>
<line x1="304.5" y1="338.5" x2="508.8" y2="338.5" stroke="#8a8d92" stroke-width="1"/>
<line x1="324.48" y1="338.5" x2="324.48" y2="340.5" stroke="#8a8d92" stroke-width="0.8"/>
<line x1="344.96" y1="338.5" x2="344.96" y2="340.5" stroke="#8a8d92" stroke-width="0.8"/>
<line x1="365.44" y1="338.5" x2="365.44" y2="340.5" stroke="#8a8d92" stroke-width="0.8"/>
<line x1="385.92" y1="338.5" x2="385.92" y2="340.5" stroke="#8a8d92" stroke-width="0.8"/>
<line x1="406.4" y1="338.5" x2="406.4" y2="340.5" stroke="#8a8d92" stroke-width="0.8"/>
<line x1="426.88" y1="338.5" x2="426.88" y2="340.5" stroke="#8a8d92" stroke-width="0.8"/>
<line x1="447.36" y1="338.5" x2="447.36" y2="340.5" stroke="#8a8d92" stroke-width="0.8"/>
<line x1="467.84" y1="338.5" x2="467.84" y2="340.5" stroke="#8a8d92" stroke-width="0.8"/>
<line x1="488.32" y1="338.5" x2="488.32" y2="340.5" stroke="#8a8d92" stroke-width="0.8"/>
<line x1="508.8" y1="338.5" x2="508.8" y2="340.5" stroke="#8a8d92" stroke-width="0.8"/>
<text stroke="#333" stroke-width="0.3" x="310.84" y="350.3" font-size="8.5" fill="#333333" textLength="8" lengthAdjust="spacingAndGlyphs">10</text>
<text stroke="#333" stroke-width="0.3" x="334.72" y="350.3" font-size="8.5" fill="#333333" text-anchor="middle">9</text>
<text stroke="#333" stroke-width="0.3" x="355.2" y="350.3" font-size="8.5" fill="#333333" text-anchor="middle">8</text>
<text stroke="#333" stroke-width="0.3" x="375.68" y="350.3" font-size="8.5" fill="#333333" text-anchor="middle">7</text>
<text stroke="#333" stroke-width="0.3" x="396.16" y="350.3" font-size="8.5" fill="#333333" text-anchor="middle">6</text>
<text stroke="#333" stroke-width="0.3" x="416.64" y="350.3" font-size="8.5" fill="#333333" text-anchor="middle">5</text>
<text stroke="#333" stroke-width="0.3" x="437.12" y="350.3" font-size="8.5" fill="#333333" text-anchor="middle">4</text>
<text stroke="#333" stroke-width="0.3" x="457.6" y="350.3" font-size="8.5" fill="#333333" text-anchor="middle">3</text>
<text stroke="#333" stroke-width="0.3" x="478.08" y="350.3" font-size="8.5" fill="#333333" text-anchor="middle">2</text>
<text stroke="#333" stroke-width="0.3" x="498.56" y="350.3" font-size="8.5" fill="#333333" text-anchor="middle">1</text>
<line x1="314.24" y1="330.13" x2="498.56" y2="374.69" stroke="#c88680" stroke-width="1"/>
<line x1="314.24" y1="331.51" x2="498.56" y2="353.66" stroke="#a4b2c0" stroke-width="1"/>
<circle cx="314.24" cy="331.9" r="1.9" fill="#c03c30"/>
<circle cx="334.72" cy="336" r="1.9" fill="#c03c30"/>
<circle cx="355.2" cy="337.5" r="1.9" fill="#c03c30"/>
<circle cx="375.68" cy="341.8" r="1.9" fill="#c03c30"/>
<circle cx="396.16" cy="349.5" r="1.9" fill="#c03c30"/>
<circle cx="416.64" cy="356" r="1.9" fill="#c03c30"/>
<circle cx="437.12" cy="359.3" r="1.9" fill="#c03c30"/>
<circle cx="457.6" cy="364.5" r="1.9" fill="#c03c30"/>
<circle cx="478.08" cy="369" r="1.9" fill="#c03c30"/>
<circle cx="498.56" cy="376.3" r="1.9" fill="#c03c30"/>
<circle cx="314.24" cy="334.5" r="1.9" fill="#3b4f7c"/>
<circle cx="334.72" cy="335.8" r="1.9" fill="#3b4f7c"/>
<circle cx="355.2" cy="337.1" r="1.9" fill="#3b4f7c"/>
<circle cx="375.68" cy="337.6" r="1.9" fill="#3b4f7c"/>
<circle cx="396.16" cy="339.4" r="1.9" fill="#3b4f7c"/>
<circle cx="416.64" cy="340.6" r="1.9" fill="#3b4f7c"/>
<circle cx="437.12" cy="342.3" r="1.9" fill="#3b4f7c"/>
<circle cx="457.6" cy="344" r="1.9" fill="#3b4f7c"/>
<circle cx="478.08" cy="347.6" r="1.9" fill="#3b4f7c"/>
<circle cx="498.56" cy="365" r="1.9" fill="#3b4f7c"/>
<rect x="439.4" y="308.4" width="83.1" height="24.1" fill="#fff" stroke="#6495bd" stroke-width="1.2"/>
<text stroke="#333" stroke-width="0.3" x="442" y="319.8" font-size="9.5" fill="#333333" textLength="79" lengthAdjust="spacingAndGlyphs" >y= -4.9622x + 19964</text>
<text stroke="#333" stroke-width="0.3" x="461" y="329.6" font-size="9.5" fill="#333333" textLength="41.5" lengthAdjust="spacingAndGlyphs" >R²= 0.7134</text>
<rect x="316.3" y="361" width="88.5" height="24.3" fill="#fff" stroke="#cc8587" stroke-width="1.2"/>
<text stroke="#333" stroke-width="0.3" x="321" y="372.5" font-size="9.5" fill="#333333" textLength="79.5" lengthAdjust="spacingAndGlyphs" >y= -9.9822x + 27.768</text>
<text stroke="#333" stroke-width="0.3" x="339.5" y="382.9" font-size="9.5" fill="#333333" textLength="41" lengthAdjust="spacingAndGlyphs" >R²= 0.9879</text>
<text stroke="#333" stroke-width="0.3" x="394.5" y="418.2" font-size="9.4" fill="#333333" textLength="22.3" lengthAdjust="spacingAndGlyphs" >Decil</text>
<circle cx="392.3" cy="430.9" r="1.5" fill="#c03c30"/>
<text stroke="#333" stroke-width="0.3" x="396.8" y="433.9" font-size="8.8" fill="#333333" textLength="11.4" lengthAdjust="spacingAndGlyphs" >Tm</text>
<circle cx="413.2" cy="430.9" r="1.5" fill="#3b4f7c"/>
<text stroke="#333" stroke-width="0.3" x="418.4" y="433.9" font-size="8.8" fill="#333333" textLength="10.2" lengthAdjust="spacingAndGlyphs" >Pp</text>
</svg>
</body></html>
